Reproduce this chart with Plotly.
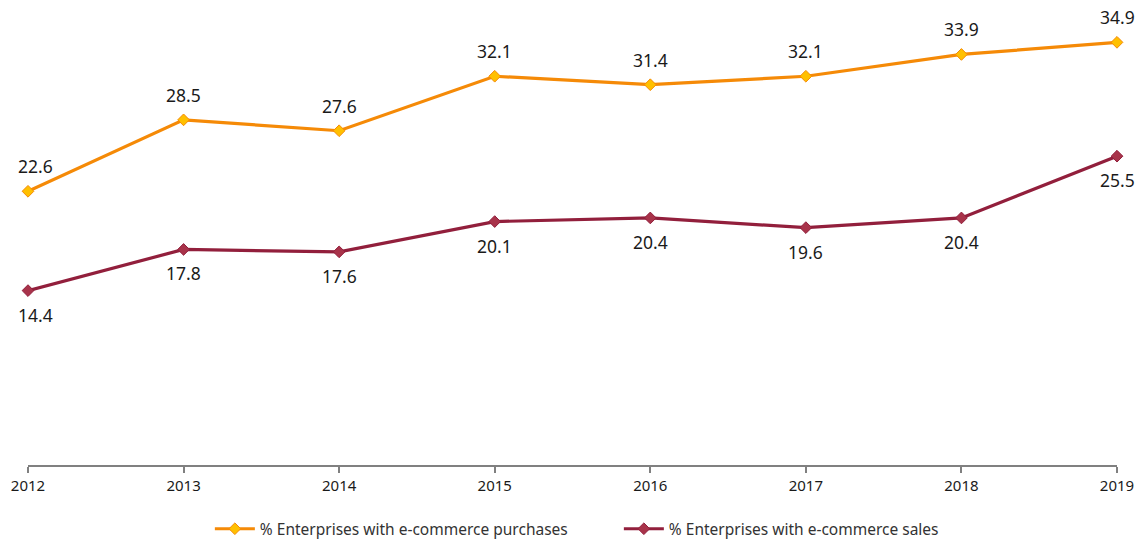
import plotly.graph_objects as go

years = [2012, 2013, 2014, 2015, 2016, 2017, 2018, 2019]
purchases = [22.6, 28.5, 27.6, 32.1, 31.4, 32.1, 33.9, 34.9]
sales = [14.4, 17.8, 17.6, 20.1, 20.4, 19.6, 20.4, 25.5]
name_p = "% Enterprises with e-commerce purchases"
name_s = "% Enterprises with e-commerce sales"

FONT = "Noto Sans"
fig = go.Figure()
fig.add_trace(go.Scatter(
    x=years, y=purchases, name=name_p, mode="lines+markers",
    line=dict(color="#F58A07", width=3.2),
    marker=dict(symbol="diamond", size=9, color="#FFC000", line=dict(color="#F58A07", width=1)),
    cliponaxis=False,
))
fig.add_trace(go.Scatter(
    x=years, y=sales, name=name_s, mode="lines+markers",
    line=dict(color="#921F3C", width=3.2),
    marker=dict(symbol="diamond", size=9, color="#A8334A", line=dict(color="#921F3C", width=1)),
    cliponaxis=False,
))

for x, y in zip(years, purchases):
    fig.add_annotation(x=x, y=y, text=f"{y:.1f}", showarrow=False, yshift=25,
                       xshift=7 if x == years[0] else 0,
                       font=dict(family=FONT, size=17.5, color="#1a1a1a"))
for x, y in zip(years, sales):
    fig.add_annotation(x=x, y=y, text=f"{y:.1f}", showarrow=False, yshift=-24,
                       xshift=7 if x == years[0] else 0,
                       font=dict(family=FONT, size=17.5, color="#1a1a1a"))

fig.update_layout(
    width=1146, height=543,
    margin=dict(l=28, r=29, t=10, b=78, autoexpand=False),
    paper_bgcolor="white", plot_bgcolor="white",
    font=dict(family=FONT, color="#222222"),
    showlegend=True,
    legend=dict(orientation="h", x=0.167, xanchor="left", y=-0.141, yanchor="middle",
                font=dict(family=FONT, size=15.5, color="#333333"), itemwidth=40,
                entrywidth=354, traceorder="normal"),
    xaxis=dict(range=[2012, 2019], tickmode="array", tickvals=years,
               ticktext=[str(y) for y in years], showgrid=False, zeroline=False,
               showline=True, linecolor="#808080", linewidth=1.5,
               ticks="outside", ticklen=6, tickcolor="#808080", tickwidth=1.5,
               tickfont=dict(family=FONT, size=15, color="#1a1a1a")),
    yaxis=dict(range=[0, 37.57], visible=False, showgrid=False, zeroline=False),
)

fig.write_html("out.html")
